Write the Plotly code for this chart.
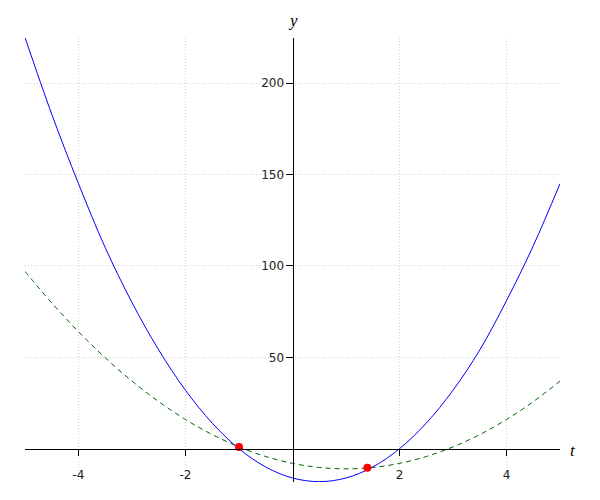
import plotly.graph_objects as go

t_vals = [-5, -4.5, -4, -3.5, -3, -2.5, -2, -1.5, -1, -0.5, 0, 0.5, 1, 1.5, 2, 2.5, 3, 3.5, 4, 4.5, 5]
blue_vals = [225, 183, 145, 110, 80, 54, 32, 14, 0, -10, -16, -18, -16, -10, 0, 14, 32, 54, 81, 111, 145]
green_vals = [97, 79.75, 64, 49.75, 37, 25.75, 16, 7.75, 1, -4.25, -8, -10.25, -11, -10.25, -8, -4.25, 1, 7.75, 16, 25.75, 37]
pt_t = [-1, 1.4]
pt_y = [1, -10.4]

x_ticks = [-4, -2, 2, 4]
x_tick_text = ["-4", "-2", "2", "4"]
y_ticks = [50, 100, 150, 200]
y_tick_text = ["50", "100", "150", "200"]

x_range = [-5, 5]
y_range = [-18.2, 224.7]

fig = go.Figure()
fig.add_trace(go.Scatter(x=t_vals, y=green_vals, mode="lines",
                         line=dict(color="#006400", width=1, dash="5px,4px", shape="spline"),
                         hoverinfo="skip"))
fig.add_trace(go.Scatter(x=t_vals, y=blue_vals, mode="lines",
                         line=dict(color="#0000ff", width=1, shape="spline"),
                         hoverinfo="skip"))
fig.add_trace(go.Scatter(x=pt_t, y=pt_y, mode="markers",
                         marker=dict(color="#ff0000", size=8),
                         hoverinfo="skip"))

xpos = (0 - y_range[0]) / (y_range[1] - y_range[0])
ypos = (0 - x_range[0]) / (x_range[1] - x_range[0])

fig.update_layout(
    width=600, height=500,
    margin=dict(l=17, r=48, t=30, b=26, autoexpand=False),
    paper_bgcolor="white", plot_bgcolor="white",
    showlegend=False,
    font=dict(family="DejaVu Sans", size=12, color="#222222"),
    xaxis=dict(range=x_range, tickvals=x_ticks, ticktext=x_tick_text,
               anchor="free", position=xpos, automargin=False,
               showline=True, linecolor="black", linewidth=1,
               ticks="outside", ticklen=6, tickcolor="black",
               ticklabelstandoff=9,
               showgrid=True, gridcolor="#d2d2d2", griddash="1px,2px", gridwidth=1,
               zeroline=False),
    yaxis=dict(range=y_range, tickvals=y_ticks, ticktext=y_tick_text,
               anchor="free", position=ypos, automargin=False,
               showline=True, linecolor="black", linewidth=1,
               ticks="outside", ticklen=7, tickcolor="black",
               ticklabelstandoff=-1,
               showgrid=True, gridcolor="#d2d2d2", griddash="1px,2px", gridwidth=1,
               zeroline=False),
    annotations=[
        dict(text="<i>y</i>", x=0, y=1, xref="x", yref="paper", yshift=18,
             xanchor="center", yanchor="middle",
             showarrow=False, font=dict(family="Liberation Serif", size=17, color="black")),
        dict(text="<i>t</i>", x=1, y=0, xref="paper", yref="y", xshift=13, yshift=-2,
             xanchor="center", yanchor="middle",
             showarrow=False, font=dict(family="Liberation Serif", size=17, color="black")),
    ],
)

fig.write_html("out.html")
